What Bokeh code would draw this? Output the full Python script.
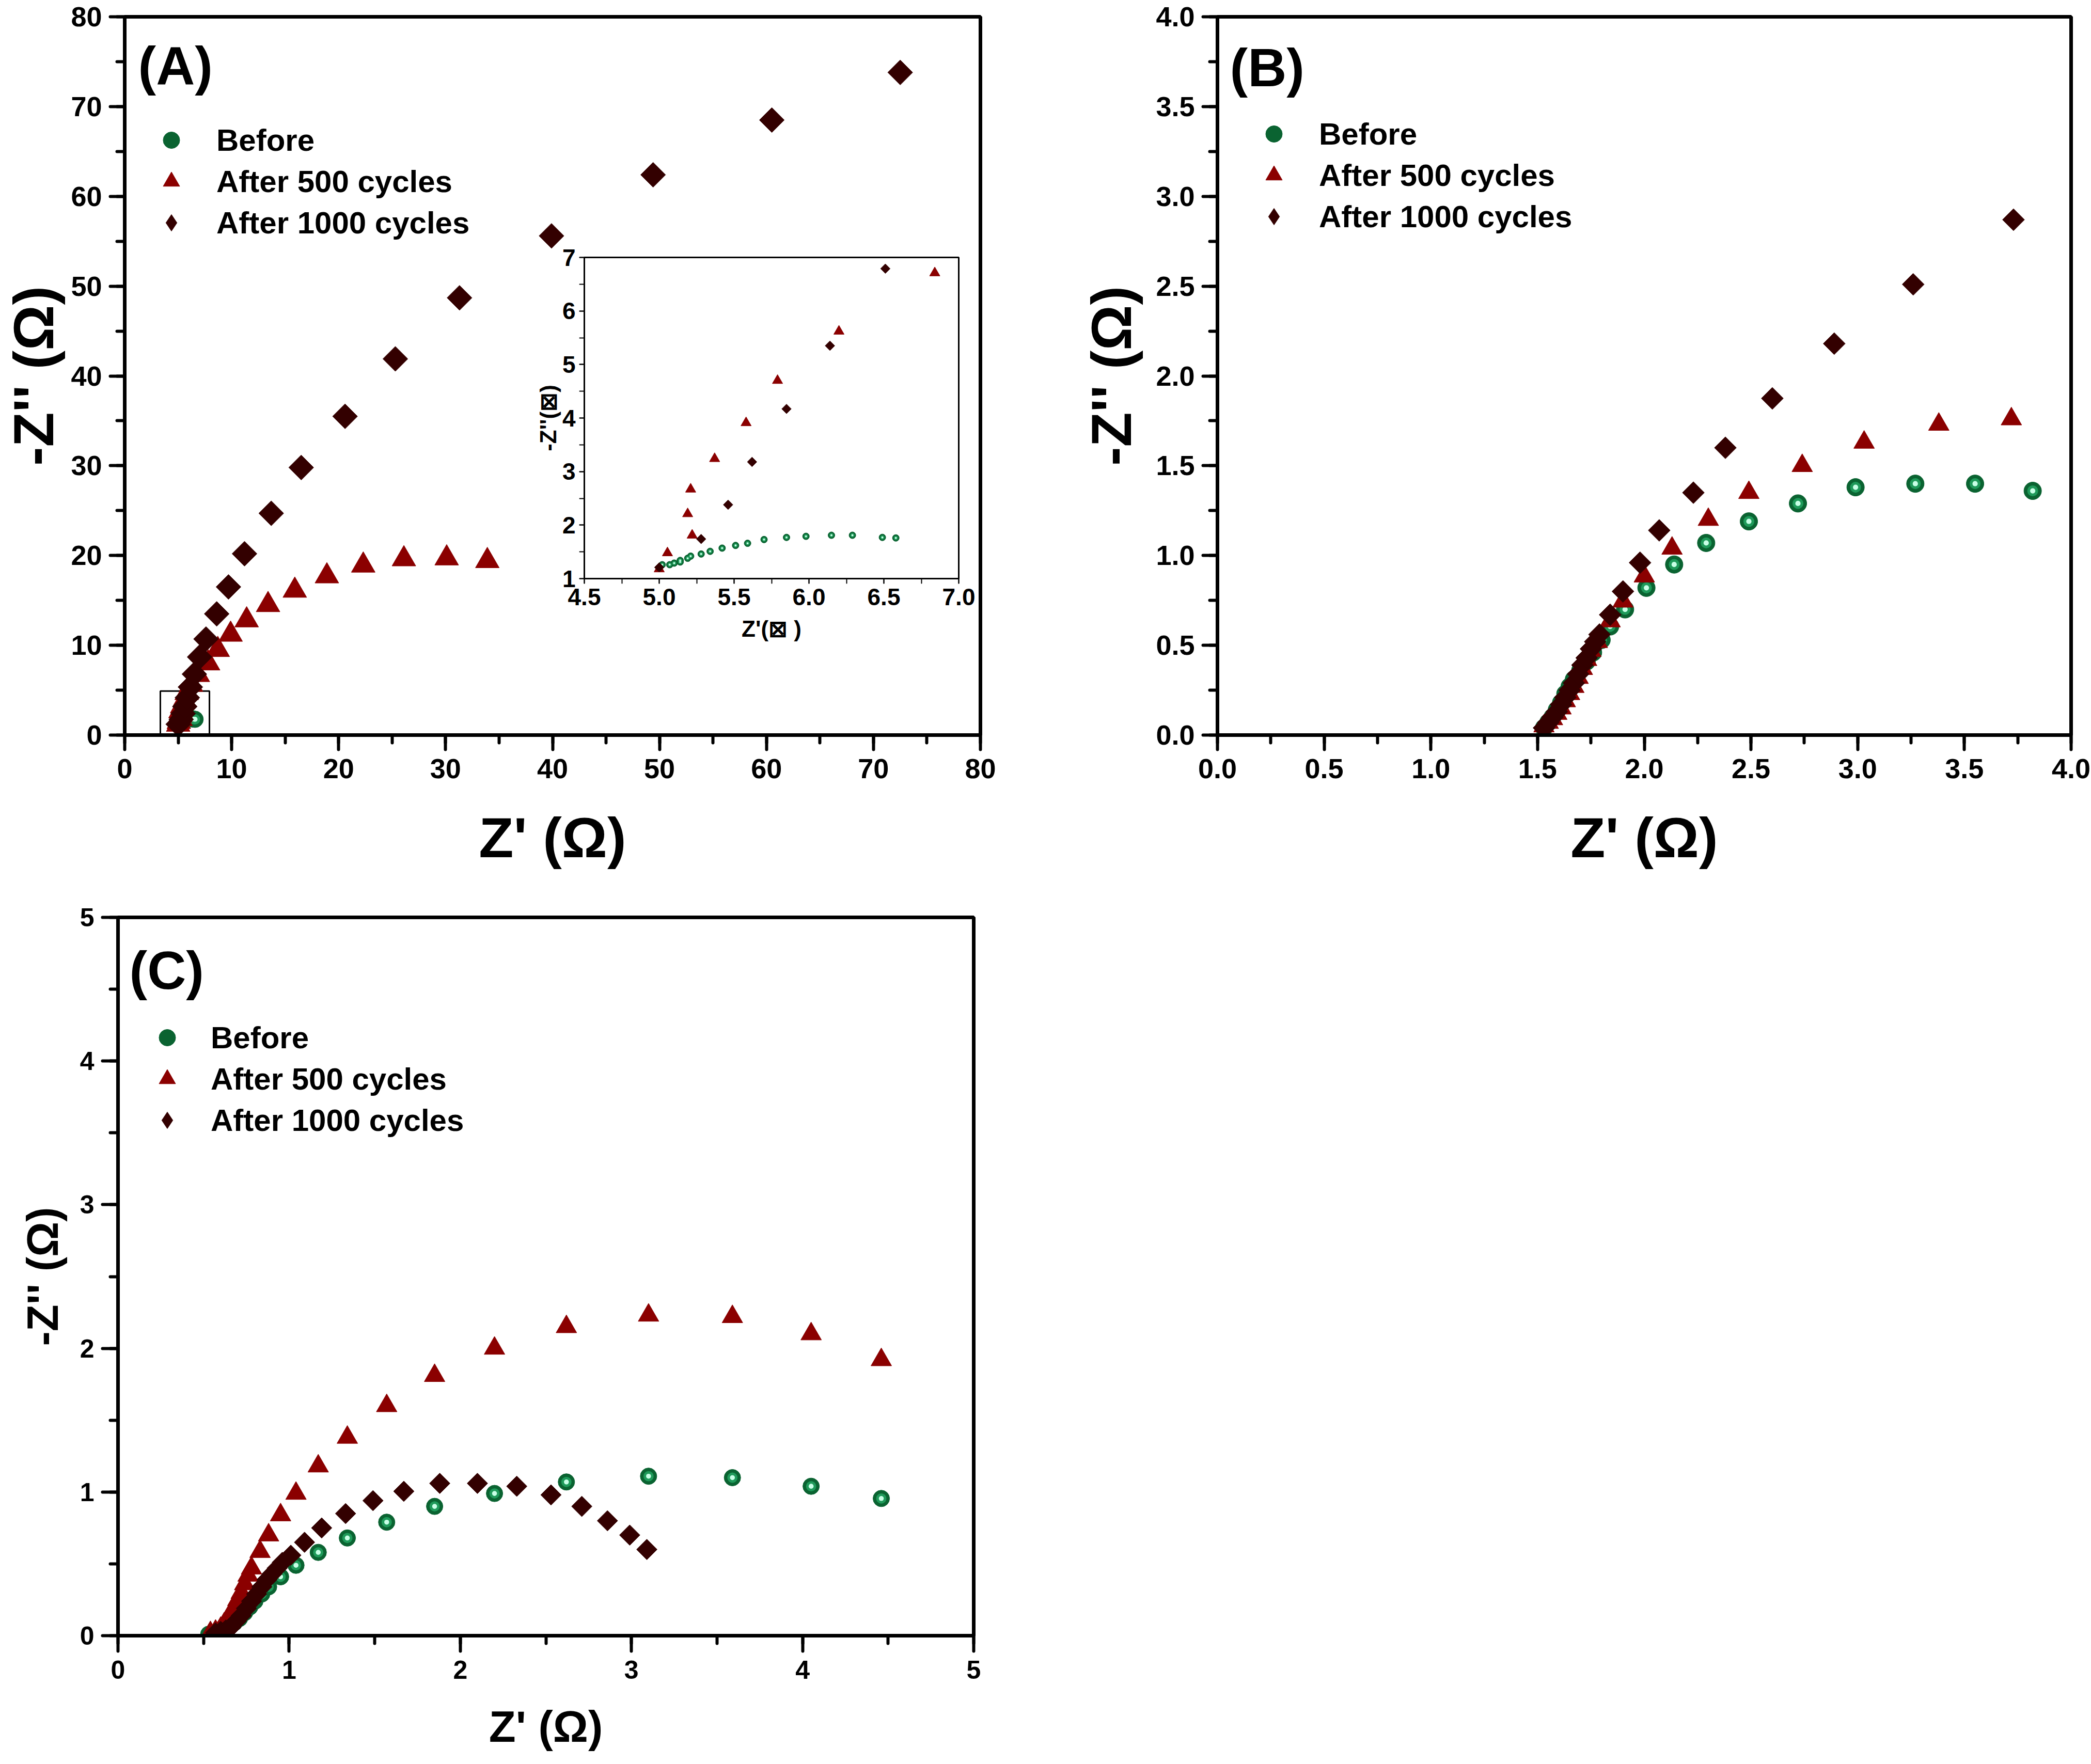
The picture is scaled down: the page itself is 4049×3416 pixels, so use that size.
import math
from bokeh.plotting import figure
from bokeh.layouts import column
from bokeh.models import (Range1d, SingleIntervalTicker, Legend, LegendItem, Label,
                          GridBox, NumeralTickFormatter)
from bokeh.embed import file_html
from bokeh.resources import INLINE

# ---------------- data ----------------
SERIES = ["Before", "After 500 cycles", "After 1000 cycles"]

# Panel A (also used by the inset)
A_before_x = [5.00, 5.02, 5.07, 5.10, 5.14, 5.14, 5.19, 5.21, 5.28, 5.34, 5.42, 5.51, 5.59,
              5.70, 5.85, 5.98, 6.15, 6.29, 6.49, 6.58]
A_before_y = [1.20, 1.26, 1.26, 1.29, 1.34, 1.31, 1.38, 1.42, 1.46, 1.51, 1.57, 1.62, 1.66,
              1.73, 1.77, 1.79, 1.81, 1.81, 1.77, 1.76]
A_500_x = [5.00, 5.055, 5.22, 5.19, 5.21, 5.37, 5.58, 5.79, 6.20, 6.84, 7.8, 8.7, 9.9, 11.4,
           13.4, 15.9, 18.9, 22.3, 26.1, 30.1, 33.9]
A_500_y = [1.18, 1.48, 1.81, 2.21, 2.67, 3.24, 3.91, 4.70, 5.62, 6.71, 8.0, 9.5, 11.2, 12.8,
           14.5, 16.1, 17.7, 18.9, 19.6, 19.7, 19.4]
A_1000_x = [5.00, 5.28, 5.46, 5.62, 5.85, 6.14, 6.51, 7.0, 7.6, 8.6, 9.7, 11.2, 13.7, 16.5,
            20.6, 25.3, 31.3, 39.9, 49.4, 60.5, 72.5]
A_1000_y = [1.21, 1.74, 2.38, 3.18, 4.17, 5.35, 6.79, 8.7, 10.7, 13.5, 16.5, 20.2, 24.7, 29.8,
            35.5, 41.9, 48.7, 55.6, 62.4, 68.5, 73.8]
A_zoom_box_x = [3.33, 7.92]
A_zoom_box_y = [0.0, 4.9]

# Panel B
B_before_x = [1.53, 1.55, 1.57, 1.59, 1.61, 1.63, 1.65, 1.67, 1.70, 1.73, 1.76, 1.80, 1.84,
              1.91, 2.01, 2.14, 2.29, 2.49, 2.72, 2.99, 3.27, 3.55, 3.82]
B_before_y = [0.04, 0.07, 0.10, 0.14, 0.18, 0.23, 0.27, 0.31, 0.36, 0.41, 0.46, 0.53, 0.605,
              0.70, 0.82, 0.95, 1.07, 1.19, 1.29, 1.38, 1.40, 1.40, 1.36]
B_500_x = [1.53, 1.55, 1.57, 1.59, 1.61, 1.63, 1.65, 1.67, 1.69, 1.71, 1.73, 1.75, 1.78,
           1.84, 1.90, 2.00, 2.13, 2.30, 2.49, 2.74, 3.03, 3.38, 3.72]
B_500_y = [0.05, 0.07, 0.09, 0.12, 0.15, 0.19, 0.23, 0.27, 0.32, 0.37, 0.42, 0.47, 0.52,
           0.635, 0.745, 0.885, 1.04, 1.20, 1.35, 1.50, 1.63, 1.73, 1.76]
B_1000_x = [1.53, 1.55, 1.57, 1.59, 1.61, 1.63, 1.65, 1.67, 1.69, 1.71, 1.73, 1.75, 1.77,
            1.79, 1.84, 1.90, 1.98, 2.07, 2.23, 2.38, 2.60, 2.89, 3.26, 3.73]
B_1000_y = [0.04, 0.07, 0.10, 0.13, 0.17, 0.21, 0.25, 0.29, 0.34, 0.39, 0.43, 0.48, 0.52,
            0.56, 0.67, 0.80, 0.96, 1.14, 1.35, 1.60, 1.875, 2.18, 2.51, 2.87]

# Panel C
C_before_x = [0.53, 0.58, 0.62, 0.65, 0.68, 0.71, 0.74, 0.77, 0.80, 0.84, 0.88, 0.95, 1.04,
              1.17, 1.34, 1.57, 1.85, 2.20, 2.62, 3.10, 3.59, 4.05, 4.46]
C_before_y = [0.01, 0.02, 0.04, 0.06, 0.09, 0.12, 0.16, 0.20, 0.24, 0.29, 0.34, 0.41, 0.49,
              0.58, 0.68, 0.79, 0.90, 0.99, 1.07, 1.11, 1.10, 1.04, 0.955]
C_500_x = [0.54, 0.57, 0.60, 0.62, 0.64, 0.66, 0.68, 0.70, 0.72, 0.74, 0.76, 0.78, 0.83,
           0.88, 0.95, 1.04, 1.17, 1.34, 1.57, 1.85, 2.20, 2.62, 3.10, 3.59, 4.05, 4.46]
C_500_y = [0.02, 0.03, 0.05, 0.08, 0.11, 0.15, 0.20, 0.25, 0.30, 0.36, 0.42, 0.47, 0.585,
           0.70, 0.84, 0.99, 1.18, 1.38, 1.60, 1.81, 2.00, 2.15, 2.23, 2.22, 2.10, 1.92]
C_1000_x = [0.57, 0.60, 0.63, 0.66, 0.69, 0.72, 0.75, 0.78, 0.81, 0.84, 0.87, 0.90, 0.93,
            0.96, 1.01, 1.09, 1.19, 1.33, 1.49, 1.67, 1.88, 2.10, 2.33, 2.53, 2.71, 2.86,
            2.99, 3.09]
C_1000_y = [0.02, 0.03, 0.04, 0.06, 0.10, 0.14, 0.19, 0.24, 0.29, 0.34, 0.39, 0.43, 0.47,
            0.51, 0.56, 0.65, 0.75, 0.85, 0.94, 1.005, 1.06, 1.06, 1.04, 0.98, 0.90, 0.80,
            0.70, 0.60]

# ---------------- style ----------------
FONT = "Liberation Sans"
GREEN = "#0a6331"
GREEN_MID = "#1f9a5a"
GREEN_HI = "#c8ffe6"
RED = "#8b0000"
DARK = "#330000"
ANG = math.pi / 4


def make_fig(width, height, xr, yr, borders, xint, yint, fmt, xlabel, ylabel,
             tick_px, title_px, xstand, ystand, tick_len=28, minor_len=15, lw=7,
             transparent=False):
    l, r, t, b = borders
    p = figure(width=width, height=height, x_range=Range1d(*xr), y_range=Range1d(*yr),
               output_backend="svg", toolbar_location=None, sizing_mode="fixed",
               min_border_left=l, min_border_right=r, min_border_top=t, min_border_bottom=b)
    p.grid.visible = False
    p.outline_line_color = "black"
    p.outline_line_width = lw
    p.outline_line_alpha = 1
    if transparent:
        p.background_fill_alpha = 0
        p.border_fill_alpha = 0
    p.xaxis.ticker = SingleIntervalTicker(interval=xint, num_minor_ticks=2)
    p.yaxis.ticker = SingleIntervalTicker(interval=yint, num_minor_ticks=2)
    p.xaxis.formatter = NumeralTickFormatter(format=fmt[0])
    p.yaxis.formatter = NumeralTickFormatter(format=fmt[1])
    for ax in (p.xaxis[0], p.yaxis[0]):
        ax.axis_line_width = lw
        ax.axis_line_color = "black"
        ax.major_tick_in = 0
        ax.major_tick_out = tick_len
        ax.minor_tick_in = 0
        ax.minor_tick_out = minor_len
        ax.major_tick_line_width = max(2, lw - 1)
        ax.minor_tick_line_width = max(2, lw - 1)
        ax.major_tick_line_cap = "round"
        ax.minor_tick_line_cap = "round"
        ax.major_label_text_font = FONT
        ax.major_label_text_font_style = "bold"
        ax.major_label_text_font_size = f"{tick_px}px"
        ax.major_label_text_color = "black"
        ax.axis_label_text_font = FONT
        ax.axis_label_text_font_style = "bold"
        ax.axis_label_text_font_size = f"{title_px}px"
        ax.axis_label_text_color = "black"
    p.xaxis.major_label_standoff = 18
    p.yaxis.major_label_standoff = 16
    p.xaxis.axis_label = xlabel
    p.yaxis.axis_label = ylabel
    p.xaxis.axis_label_standoff = xstand
    p.yaxis.axis_label_standoff = ystand
    return p


def add_series(p, data, sizes):
    (bx, by), (rx, ry), (dx, dy) = data
    cs, ts, ds = sizes
    r1 = p.scatter(bx, by, marker="circle", size=cs, fill_color=GREEN, line_color=GREEN)
    p.scatter(bx, by, marker="circle", size=cs * 0.62, fill_color=GREEN_MID, line_color=None)
    p.scatter(bx, by, marker="circle", size=cs * 0.3, fill_color=GREEN_HI, line_color=None)
    r2 = p.scatter(rx, ry, marker="triangle", size=ts, fill_color=RED, line_color=RED)
    # diamond marker (used by the legend, whose glyphs are drawn unrotated);
    # it lies fully under the rotated squares drawn next
    r3 = p.scatter(dx, dy, marker="diamond", size=ds, fill_color=DARK, line_color=DARK)
    p.scatter(dx, dy, marker="square", angle=ANG, size=ds, fill_color=DARK, line_color=DARK)
    return [r1, r2, r3]


def add_legend(p, rends, x, y, standoff):
    items = [LegendItem(label=s, renderers=[r]) for s, r in zip(SERIES, rends)]
    lg = Legend(items=items, location=(x, y), orientation="vertical",
                glyph_width=85, glyph_height=80, label_height=80, spacing=0,
                padding=0, margin=0, label_standoff=standoff,
                label_text_font=FONT, label_text_font_style="bold",
                label_text_font_size="60px", label_text_color="black",
                border_line_alpha=0, background_fill_alpha=0)
    p.add_layout(lg)


def add_tag(p, text, x, y):
    p.add_layout(Label(x=x, y=y, x_units="screen", y_units="screen", text=text,
                       text_font=FONT, text_font_style="bold", text_font_size="104px",
                       text_baseline="top", text_color="black"))


FRAME_H = 1391

# ---------------- panel A ----------------
pA = make_fig(2060, 1720, (0, 80), (0, 80), (240, 162, 32, 297), 10, 10, ("0", "0"),
              "Z' (Ω)", "-Z'' (Ω)", 54, 110, 50, 8)
pA.quad(left=[A_zoom_box_x[0]], right=[A_zoom_box_x[1]], bottom=[A_zoom_box_y[0]],
        top=[A_zoom_box_y[1]], fill_alpha=0, line_color="black", line_width=3)
rA = add_series(pA, [(A_before_x, A_before_y), (A_500_x, A_500_y), (A_1000_x, A_1000_y)],
                (32, 46, 34))
add_legend(pA, rA, 48, FRAME_H - 199 - 240, 45)
add_tag(pA, "(A)", 26, FRAME_H - 36)

# ---------------- inset ----------------
IN_W, IN_H, IN_X, IN_Y = 866, 810, 1030, 470
pI = make_fig(IN_W, IN_H, (4.5, 7.0), (1, 7), (101, 40, 28, 160), 0.5, 1, ("0.0", "0"),
              "Z'(⊠ )", "-Z''(⊠)", 46, 44, 18, 0, tick_len=9, minor_len=9, lw=3,
              transparent=True)
pI.frame_align = False
pI.xaxis.major_label_standoff = 10
pI.yaxis.major_label_standoff = 8
add_series(pI, [(A_before_x, A_before_y), (A_500_x, A_500_y), (A_1000_x, A_1000_y)],
           (13, 20, 13))
# pull the inset up over panel A (negative top margin), keep column height = 1720
pI.margin = (-(1720 - IN_Y), 0, 1720 - IN_Y - IN_H, IN_X)

colA = column(pA, pI, spacing=0)

# ---------------- panel B ----------------
pB = make_fig(1989, 1720, (0, 4), (0, 4), (297, 39, 32, 297), 0.5, 0.5, ("0.0", "0.0"),
              "Z' (Ω)", "-Z'' (Ω)", 54, 110, 50, 22)
rB = add_series(pB, [(B_before_x, B_before_y), (B_500_x, B_500_y), (B_1000_x, B_1000_y)],
                (34, 40, 30))
add_legend(pB, rB, 67, FRAME_H - 187 - 240, 45)
add_tag(pB, "(B)", 24, FRAME_H - 40)

# ---------------- panel C ----------------
pC = make_fig(2060, 1696, (0, 5), (0, 5), (228, 175, 56, 249), 1, 1, ("0", "0"),
              "Z' (Ω)", "-Z'' (Ω)", 50, 85, 42, 22, tick_len=30)
rC = add_series(pC, [(C_before_x, C_before_y), (C_500_x, C_500_y), (C_1000_x, C_1000_y)],
                (32, 40, 28))
add_legend(pC, rC, 53, FRAME_H - 193 - 240, 42)
add_tag(pC, "(C)", 22, FRAME_H - 44)

grid = GridBox(children=[(colA, 0, 0), (pB, 0, 1), (pC, 1, 0)], spacing=0)

open("out.html", "w").write(file_html(grid, INLINE))
